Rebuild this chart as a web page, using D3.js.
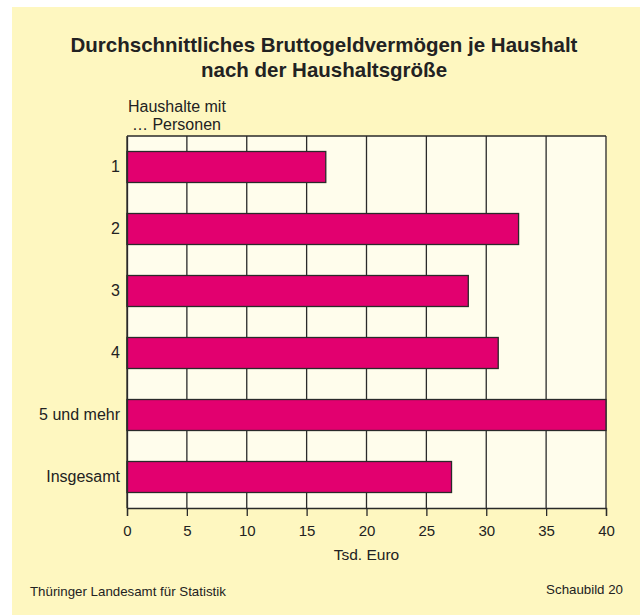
<!DOCTYPE html>
<html>
<head>
<meta charset="utf-8">
<title>Bruttogeldvermögen</title>
<style>
	body { margin: 0; background: #ffffff; }
	text { font-family: "Liberation Sans", Arial, sans-serif; fill: #222; }
</style>
</head>
<body>
<div id="chart"></div>

<script src="https://d3js.org/d3.v7.min.js"></script>
<script>

	// data (Tsd. Euro)
	var categories = ['1', '2', '3', '4', '5 und mehr', 'Insgesamt'];
	var values = [16.6, 32.7, 28.5, 31.0, 40.0, 27.1];
	var xTicks = [0, 5, 10, 15, 20, 25, 30, 35, 40];

	var width = 640;
	var height = 615;
	var font = 'Liberation Sans';

	var plot = {left: 127, right: 606, top: 136, bottom: 508};

	var svg = d3.select('#chart')
		.append('svg')
		.attr('width', width)
		.attr('height', height)
		.attr('font-family', font);

	// yellow panel
	svg.append('rect')
		.attr('x', 12)
		.attr('y', 7)
		.attr('width', width - 12)
		.attr('height', height - 7)
		.attr('fill', '#fef7c0');

	var x = d3.scaleLinear()
		.domain([0, 40])
		.range([plot.left, plot.right]);

	var y = d3.scaleBand()
		.domain(categories)
		.range([plot.top, plot.bottom])
		.paddingInner(0.5)
		.paddingOuter(0.25);

	// plot background
	svg.append('rect')
		.attr('x', plot.left)
		.attr('y', plot.top)
		.attr('width', plot.right - plot.left)
		.attr('height', plot.bottom - plot.top)
		.attr('fill', '#fffdec');

	// vertical grid lines
	svg.selectAll('.grid')
		.data(xTicks)
		.enter()
		.append('line')
		.attr('class', 'grid')
		.attr('x1', function(d){ return x(d); })
		.attr('x2', function(d){ return x(d); })
		.attr('y1', plot.top)
		.attr('y2', plot.bottom)
		.attr('stroke', '#2a2a2a')
		.attr('stroke-width', 1.3);

	// top border
	svg.append('line')
		.attr('x1', plot.left).attr('x2', plot.right)
		.attr('y1', plot.top).attr('y2', plot.top)
		.attr('stroke', '#2a2a2a').attr('stroke-width', 1.3);

	// bars
	svg.selectAll('.bar')
		.data(values)
		.enter()
		.append('rect')
		.attr('class', 'bar')
		.attr('x', x(0))
		.attr('y', function(d, i){ return y(categories[i]); })
		.attr('width', function(d){ return x(d) - x(0); })
		.attr('height', y.bandwidth())
		.attr('fill', '#e2006f')
		.attr('stroke', '#2a2a2a')
		.attr('stroke-width', 1.3);

	// x axis
	var xAxis = svg.append('g')
		.attr('transform', 'translate(0,' + plot.bottom + ')')
		.call(d3.axisBottom(x).tickValues(xTicks).tickSize(8).tickPadding(9));

	xAxis.select('.domain').attr('stroke', '#2a2a2a').attr('stroke-width', 1.3);
	xAxis.selectAll('.tick line').attr('stroke', '#2a2a2a').attr('stroke-width', 1.3);
	xAxis.selectAll('.tick text')
		.attr('font-size', 15)
		.attr('font-family', font)
		.attr('fill', '#222');

	// y axis labels
	var yAxis = svg.append('g')
		.attr('transform', 'translate(' + plot.left + ',0)')
		.call(d3.axisLeft(y).tickSize(0).tickPadding(7));

	yAxis.select('.domain').attr('stroke', '#2a2a2a').attr('stroke-width', 1.3);
	yAxis.selectAll('.tick text')
		.attr('font-size', 16)
		.attr('font-family', font)
		.attr('fill', '#222');

	// titles
	svg.append('text')
		.attr('x', 324)
		.attr('y', 52)
		.attr('text-anchor', 'middle')
		.attr('font-size', 20.5)
		.attr('font-weight', 'bold')
		.text('Durchschnittliches Bruttogeldvermögen je Haushalt');

	svg.append('text')
		.attr('x', 324)
		.attr('y', 77)
		.attr('text-anchor', 'middle')
		.attr('font-size', 20.5)
		.attr('font-weight', 'bold')
		.text('nach der Haushaltsgröße');

	svg.append('text')
		.attr('x', 128)
		.attr('y', 112)
		.attr('font-size', 16)
		.text('Haushalte mit');

	svg.append('text')
		.attr('x', 132)
		.attr('y', 130)
		.attr('font-size', 16)
		.text('… Personen');

	svg.append('text')
		.attr('x', (plot.left + plot.right) / 2)
		.attr('y', 560)
		.attr('text-anchor', 'middle')
		.attr('font-size', 15.5)
		.text('Tsd. Euro');

	// footer
	svg.append('text')
		.attr('x', 30)
		.attr('y', 596)
		.attr('font-size', 13.3)
		.text('Thüringer Landesamt für Statistik');

	svg.append('text')
		.attr('x', 623)
		.attr('y', 594)
		.attr('text-anchor', 'end')
		.attr('font-size', 13.3)
		.text('Schaubild 20');

</script>
</body>
</html>
